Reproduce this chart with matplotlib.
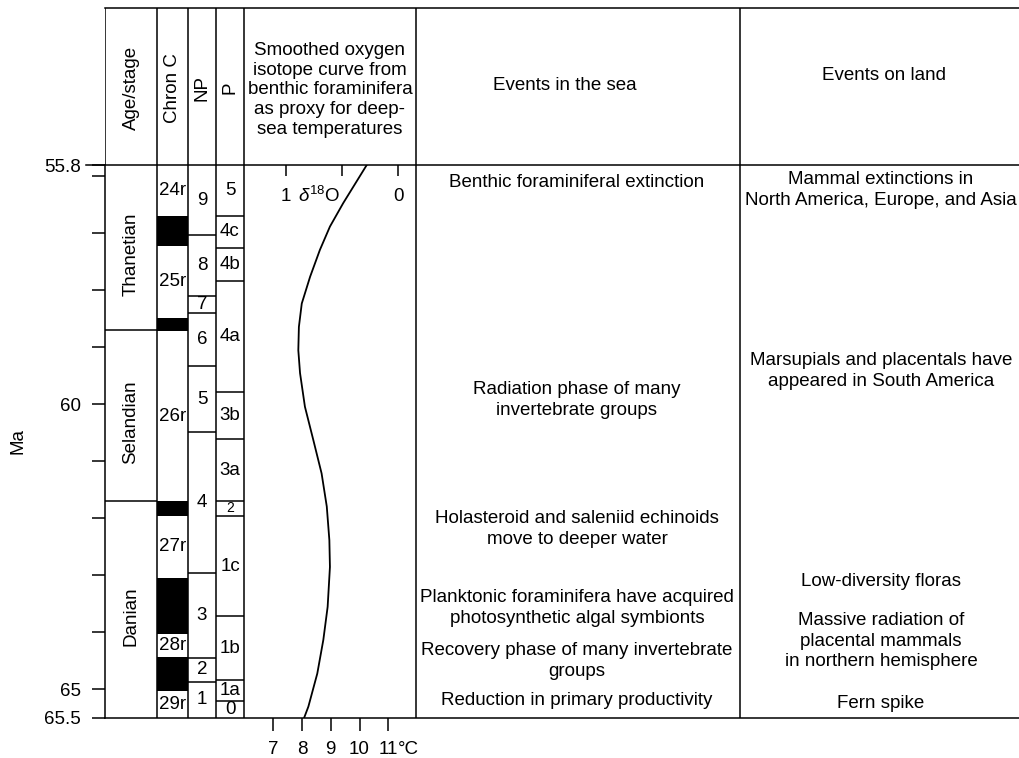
import numpy as np
import matplotlib.pyplot as plt

plt.rcParams['font.family'] = ['Liberation Sans', 'DejaVu Sans']
plt.rcParams['mathtext.fontset'] = 'custom'
plt.rcParams['mathtext.rm'] = 'Liberation Sans'
plt.rcParams['mathtext.it'] = 'Liberation Sans:italic'
plt.rcParams['font.size'] = 13.5

# ---- data (Ma) ----
ages = ['Thanetian', 'Selandian', 'Danian']
age_bounds = [55.8, 58.7, 61.7, 65.5]

chron_labels = ['24r', '25r', '26r', '27r', '28r', '29r']
chron_normal = [(56.7, 57.22), (58.48, 58.72), (61.69, 61.95), (63.05, 64.03), (64.43, 65.03)]

np_zones = ['9', '8', '7', '6', '5', '4', '3', '2', '1']
np_bounds = [55.8, 57.03, 58.09, 58.4, 59.32, 60.49, 62.96, 64.44, 64.86, 65.5]

p_zones = ['5', '4c', '4b', '4a', '3b', '3a', '2', '1c', '1b', '1a', '0']
p_bounds = [55.8, 56.7, 57.25, 57.83, 59.79, 60.61, 61.69, 61.96, 63.71, 64.84, 65.2, 65.5]

# smoothed isotope curve, as temperature (deg C)
iso_age = [55.8, 56.47, 56.88, 57.29, 57.76, 58.23, 58.64, 59.05, 59.45, 60.04,
           60.62, 61.21, 61.79, 62.38, 62.85, 63.55, 64.13, 64.72, 65.3, 65.5]
iso_temp = [10.25, 9.43, 8.97, 8.62, 8.28, 7.99, 7.89, 7.87, 7.93, 8.10,
            8.39, 8.68, 8.86, 8.95, 8.97, 8.89, 8.74, 8.53, 8.22, 8.07]
temp_ticks = [7, 8, 9, 10, 11]
d18o_ticks = [1, 0.5, 0]

sea_age = [56.1, 59.92, 62.18, 63.57, 64.5, 65.2]
sea_events = ['Benthic foraminiferal extinction',
              'Radiation phase of many\ninvertebrate groups',
              'Holasteroid and saleniid echinoids\nmove to deeper water',
              'Planktonic foraminifera have acquired\nphotosynthetic algal symbionts',
              'Recovery phase of many invertebrate\ngroups',
              'Reduction in primary productivity']
land_age = [56.24, 59.41, 63.1, 64.15, 65.24]
land_events = ['Mammal extinctions in\nNorth America, Europe, and Asia',
               'Marsupials and placentals have\nappeared in South America',
               'Low-diversity floras',
               'Massive radiation of\nplacental mammals\nin northern hemisphere',
               'Fern spike']

ma_ticks = [55.8, 56, 57, 58, 59, 60, 61, 62, 63, 64, 65, 65.5]
ma_labels = ['55.8', '', '', '', '', '60', '', '', '', '', '65', '65.5']

# ---- layout (pixels) ----
W, H = 1019, 758
cols = [105, 157, 188, 216, 244, 416, 740, 1019]
top, mid, bot = 8, 165, 718
lw = 1.1
k = 'black'

fig = plt.figure(figsize=(W / 100, H / 100), dpi=100)

# body
ax = fig.add_axes([cols[0] / W, 1 - bot / H, (W - cols[0]) / W, (bot - mid) / H])
ax.set_xlim(cols[0], W)
ax.set_ylim(65.5, 55.8)
for s in ['top', 'right']:
    ax.spines[s].set_visible(False)
ax.spines['left'].set_linewidth(lw)
ax.spines['bottom'].set_linewidth(lw)
ax.set_xticks([])
ax.set_yticks(ma_ticks)
ax.set_yticklabels(ma_labels)
ax.tick_params(axis='y', length=9.4, width=lw, pad=8)
ax.set_ylabel('Ma', labelpad=13)
ax.axhline(55.8, xmin=-19 / (W - cols[0]), xmax=1, color=k, lw=lw, clip_on=False)
for x in cols[1:7]:
    ax.axvline(x, color=k, lw=lw)

# age/stage
ax.hlines(age_bounds[1:-1], cols[0], cols[1], color=k, lw=lw)
for i, name in enumerate(ages):
    ax.text((cols[0] + cols[1]) / 2, (age_bounds[i] + age_bounds[i + 1]) / 2 + 0.12, name,
            rotation=90, ha='center', va='center')

# chrons
for a, b in chron_normal:
    ax.bar((cols[1] + cols[2]) / 2, b - a, bottom=a, width=cols[2] - cols[1], color=k, lw=0)
rev = [55.8] + [v for pair in chron_normal for v in pair] + [65.5]
for i, lab in enumerate(chron_labels):
    ax.text((cols[1] + cols[2]) / 2, (rev[2 * i] + rev[2 * i + 1]) / 2, lab,
            ha='center', va='center')

# zones
for zones, bounds, c0, c1 in [(np_zones, np_bounds, cols[2], cols[3]),
                              (p_zones, p_bounds, cols[3], cols[4])]:
    ax.hlines(bounds[1:-1], c0, c1, color=k, lw=lw)
    for i, lab in enumerate(zones):
        h = bounds[i + 1] - bounds[i]
        ax.text((c0 + c1) / 2, (bounds[i] + bounds[i + 1]) / 2, lab, ha='center', va='center',
                fontsize=13.5 if h > 0.28 else 10)

# events
for a, t in zip(sea_age, sea_events):
    ax.text(577, a, t, ha='center', va='center', linespacing=1.3)
for a, t in zip(land_age, land_events):
    ax.text(881, a, t, ha='center', va='center', linespacing=1.3)

# isotope curve
t_lo = 7 + (cols[4] - 273.3) / 28.75
t_hi = 7 + (cols[5] - 273.3) / 28.75
iso = fig.add_axes([cols[4] / W, 1 - bot / H, (cols[5] - cols[4]) / W, (bot - mid) / H])
iso.patch.set_alpha(0)
iso.set_xlim(t_lo, t_hi)
iso.set_ylim(65.5, 55.8)
for s in iso.spines.values():
    s.set_visible(False)
iso.set_yticks([])
iso.set_xticks(temp_ticks)
iso.set_xticklabels([str(t) for t in temp_ticks])
iso.tick_params(axis='x', length=9.4, width=lw, pad=7)
iso.annotate('°C', xy=(11, 0), xycoords=('data', 'axes fraction'), xytext=(6.6, -16.4),
             textcoords='offset points', ha='left', va='top')
iso.plot(iso_temp, iso_age, color=k, lw=1.3)


def d2t(d):
    return 11.348 - 3.917 * np.asarray(d)


def t2d(t):
    return (11.348 - np.asarray(t)) / 3.917


sec = iso.secondary_xaxis('top', functions=(t2d, d2t))
sec.set_xticks(d18o_ticks)
sec.set_xticklabels([])
sec.tick_params(direction='in', length=8, width=lw)
sec.spines['top'].set_visible(False)
iso.text(d2t(1), 56.35, '1', ha='center', va='center')
iso.text(d2t(0), 56.35, '0', ha='center', va='center')
iso.text(d2t(0.7), 56.35, r'$\mathit{\delta}^{18}$O', ha='center', va='center')

# header
hax = fig.add_axes([cols[0] / W, 1 - mid / H, (W - cols[0]) / W, (mid - top) / H])
hax.set_xlim(cols[0], W)
hax.set_ylim(mid, top)
hax.axis('off')
hax.axhline(top, color=k, lw=lw, clip_on=False)
for x in cols[:7]:
    hax.axvline(x, color=k, lw=lw)
hy = 88
for lab, c0, c1 in [('Age/stage', cols[0], cols[1]), ('Chron C', cols[1], cols[2]),
                    ('NP', cols[2], cols[3]), ('P', cols[3], cols[4])]:
    hax.text((c0 + c1) / 2, hy, lab, rotation=90, ha='center', va='center')
hax.text((cols[4] + cols[5]) / 2, 90, 'Smoothed oxygen\nisotope curve from\nbenthic foraminifera\n'
         'as proxy for deep-\nsea temperatures', ha='center', va='center', linespacing=1.2)
hax.text(565, 85, 'Events in the sea', ha='center', va='center')
hax.text(884, 76, 'Events on land', ha='center', va='center')

fig.savefig('out.png', dpi=100)
